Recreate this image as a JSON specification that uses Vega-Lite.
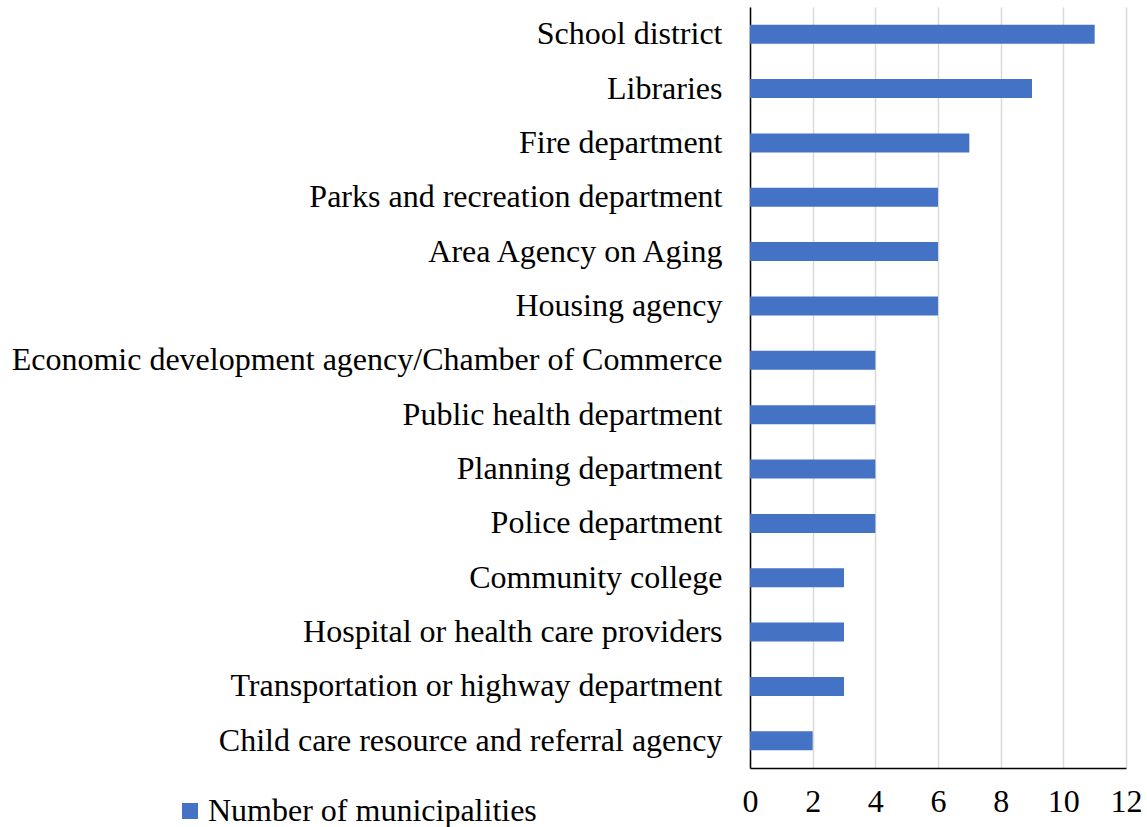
{
  "$schema": "https://vega.github.io/schema/vega-lite/v6.json",
  "autosize": {"type": "none"},
  "padding": {"left": 750, "top": 7, "right": 21, "bottom": 59},
  "width": 376,
  "height": 761,
  "background": "white",
  "config": {
    "view": {"stroke": null},
    "font": "Liberation Serif"
  },
  "data": {
    "values": [
      {"agency": "School district", "count": 11, "series": "Number of municipalities"},
      {"agency": "Libraries", "count": 9, "series": "Number of municipalities"},
      {"agency": "Fire department", "count": 7, "series": "Number of municipalities"},
      {"agency": "Parks and recreation department", "count": 6, "series": "Number of municipalities"},
      {"agency": "Area Agency on Aging", "count": 6, "series": "Number of municipalities"},
      {"agency": "Housing agency", "count": 6, "series": "Number of municipalities"},
      {"agency": "Economic development agency/Chamber of Commerce", "count": 4, "series": "Number of municipalities"},
      {"agency": "Public health department", "count": 4, "series": "Number of municipalities"},
      {"agency": "Planning department", "count": 4, "series": "Number of municipalities"},
      {"agency": "Police department", "count": 4, "series": "Number of municipalities"},
      {"agency": "Community college", "count": 3, "series": "Number of municipalities"},
      {"agency": "Hospital or health care providers", "count": 3, "series": "Number of municipalities"},
      {"agency": "Transportation or highway department", "count": 3, "series": "Number of municipalities"},
      {"agency": "Child care resource and referral agency", "count": 2, "series": "Number of municipalities"}
    ]
  },
  "mark": {"type": "bar", "color": "#4472C4"},
  "encoding": {
    "y": {
      "field": "agency",
      "type": "nominal",
      "sort": null,
      "scale": {"paddingInner": 0.65, "paddingOuter": 0.325},
      "axis": {
        "title": null,
        "ticks": false,
        "labelFontSize": 32,
        "labelColor": "#000000",
        "labelPadding": 28,
        "labelLimit": 800,
        "domainColor": "#000000",
        "domainWidth": 1.5,
        "grid": false
      }
    },
    "x": {
      "field": "count",
      "type": "quantitative",
      "scale": {"domain": [0, 12], "nice": false},
      "axis": {
        "title": null,
        "values": [0, 2, 4, 6, 8, 10, 12],
        "ticks": false,
        "labelFontSize": 32,
        "labelColor": "#000000",
        "labelPadding": 18,
        "domainColor": "#000000",
        "domainWidth": 1.5,
        "grid": true,
        "gridColor": "#d9d9d9",
        "gridWidth": 1.5,
        "labelFlush": false
      }
    },
    "color": {
      "field": "series",
      "type": "nominal",
      "scale": {"range": ["#4472C4"]},
      "legend": {
        "title": null,
        "orient": "none",
        "legendX": -576,
        "legendY": 788,
        "symbolType": "square",
        "symbolSize": 256,
        "symbolStrokeWidth": 0,
        "labelFontSize": 32,
        "labelColor": "#000000",
        "labelOffset": 2,
        "labelLimit": 600
      }
    }
  }
}
